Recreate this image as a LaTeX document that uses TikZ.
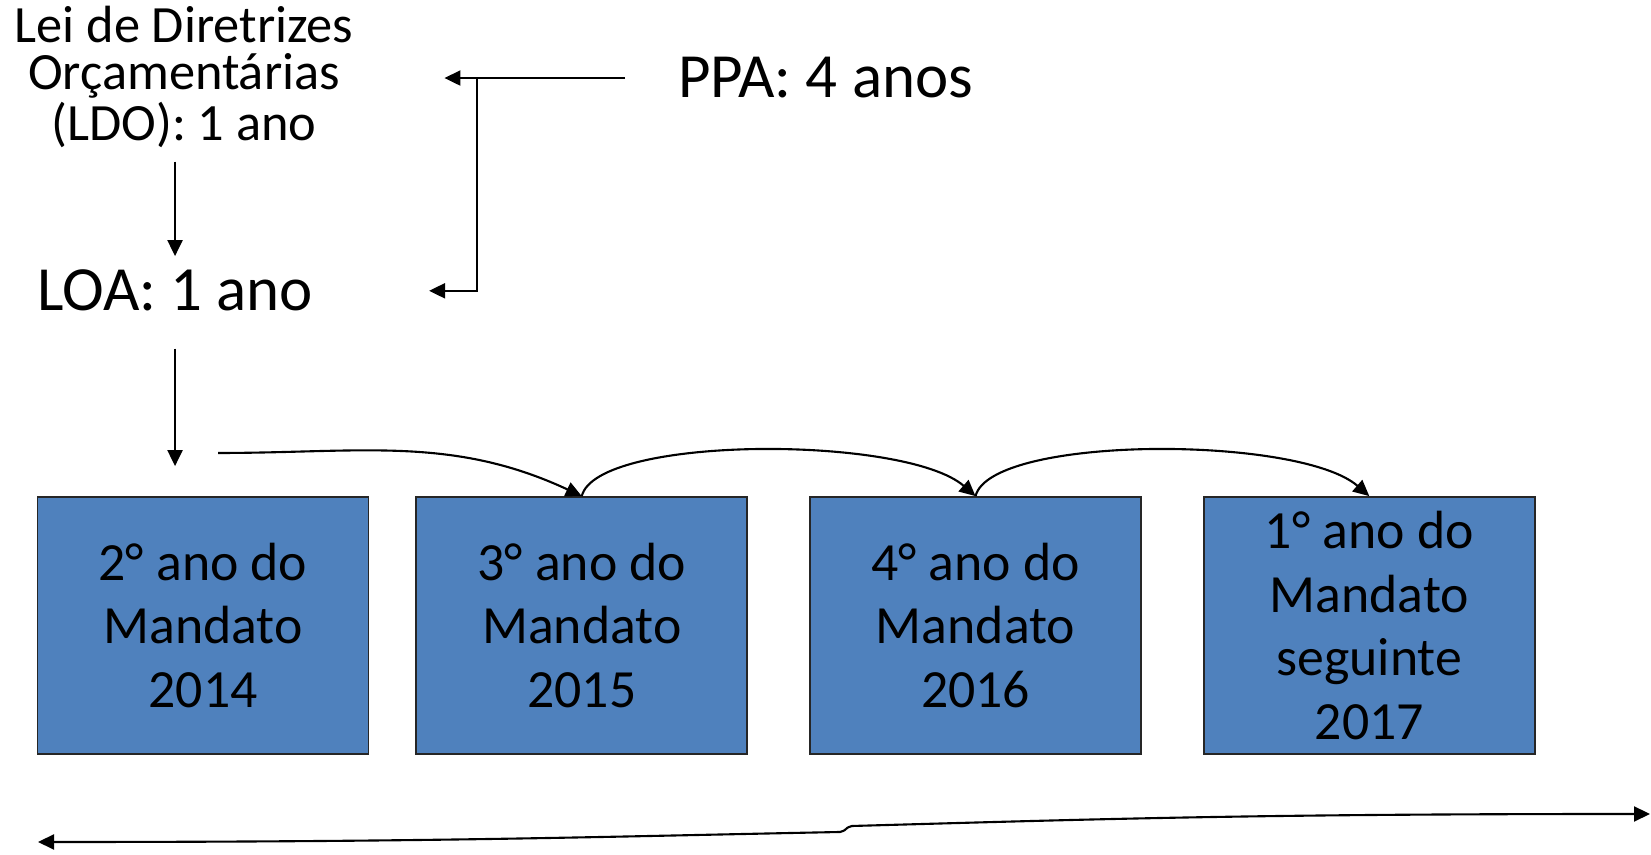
\documentclass[tikz,border=0pt]{standalone}
\usepackage{fontspec}
\setmainfont{Carlito}
\usetikzlibrary{arrows.meta,positioning}
\definecolor{boxblue}{HTML}{4F81BD}

\begin{document}
\begin{tikzpicture}[->, >={Triangle[length=1.6mm,width=1.5mm]}, line width=0.6pt]
    \tikzset{box/.style={draw=black!85, fill=boxblue, line width=0.5pt, rectangle,
                         minimum width=3.31cm, minimum height=2.57cm, inner sep=0pt,
                         align=center, font=\fontsize{15.3}{18.1}\selectfont},
             lei/.style={inner sep=0pt, font=\fontsize{17.9}{22}\selectfont}}
    \useasboundingbox (0,0) rectangle (16.51,8.55);
    \node[align=center, inner sep=0pt, font=\fontsize{14.9}{13.3}\selectfont] (ldo) at (1.84,7.78)
          {Lei de Diretrizes\\Orçamentárias\\(LDO): 1 ano};
    \node[lei, anchor=base west] (loa) at (0.36,5.44) {LOA: 1 ano};
    \node[lei, anchor=base west] (ppa) at (6.77,7.57) {PPA: 4 anos};
    \node[box] (ano_2014) at (2.03,2.295)            {2° ano do\\Mandato\\2014};
    \node[box] (ano_2015) [right=4.6mm of ano_2014]  {3° ano do\\Mandato\\2015};
    \node[box] (ano_2016) [right=6.1mm of ano_2015]  {4° ano do\\Mandato\\2016};
    \node[box] (ano_2017) [right=6.1mm of ano_2016]  {1° ano do\\Mandato\\seguinte\\2017};
    \coordinate (seq_start) at (2.18,4.02);
    \path (ppa.west) ++(-2.0,0) coordinate (ppa_split);
    \coordinate (mandato_left)  at (0.38,0.13);
    \coordinate (mandato_mid_a) at (8.40,0.23);
    \coordinate (mandato_mid_b) at (8.52,0.29);
    \coordinate (mandato_right) at (16.50,0.41);
    % LDO -> LOA -> mandato
    \draw[shorten <=1.3mm, shorten >=1.3mm] (loa |- ldo.south) -- (loa.north);
    \draw[shorten <=3.6mm, shorten >=3mm] (loa.south) -- (loa |- ano_2014.north);
    % PPA
    \draw[shorten <=5.2mm, shorten >=9mm] (ppa.west) -- (ppa.west -| ldo.east);
    \draw[shorten >=11.5mm] (ppa_split) |- (loa.east);
    % sequence of years
    \draw (seq_start) to[out=0, in=155] (ano_2015.north);
    \draw (ano_2015.north) to[out=76, in=139, out distance=6.3mm, in distance=9.3mm] (ano_2016.north);
    \draw (ano_2016.north) to[out=76, in=139, out distance=6.3mm, in distance=9.3mm] (ano_2017.north);
    % mandato
    \draw[<->] (mandato_left) .. controls +(4,0) and +(-2.5,-0.05) .. (mandato_mid_a)
               .. controls +(0.1,0.03) and +(-0.1,-0.03) .. (mandato_mid_b)
               .. controls +(2.5,0.07) and +(-4,0) .. (mandato_right);
\end{tikzpicture}
\end{document}
